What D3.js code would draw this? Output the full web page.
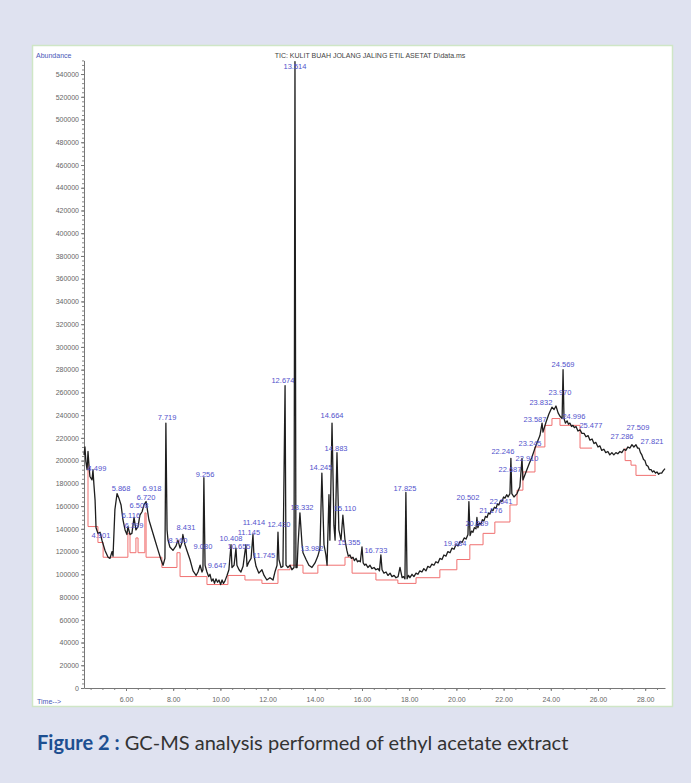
<!DOCTYPE html>
<html><head><meta charset="utf-8">
<script src="https://cdn.jsdelivr.net/npm/d3@7"></script>
<style>html,body{margin:0;padding:0;background:#dfe2f0;} svg{display:block}</style>
</head><body>
<svg id="c" width="691" height="783"></svg>
<script>
// ---- Chromatogram trace: [retention time (min), abundance] ----
const trace = [
 [4.22,205000],[4.26,212000],[4.30,199000],[4.35,192000],[4.39,208000],[4.43,196000],[4.47,186000],[4.56,183000],[4.60,192000],[4.64,179000],
 [4.69,165000],[4.73,141000],[4.81,136000],[4.90,137000],[4.98,130000],[5.11,121000],[5.24,115000],[5.32,114000],[5.41,120000],[5.45,116000],
 [5.53,157000],[5.62,171000],[5.70,167000],[5.79,161000],[5.87,148000],[5.96,139000],[6.04,135000],[6.08,142000],[6.17,135000],[6.25,136000],
 [6.34,150000],[6.42,139000],[6.51,142000],[6.59,152000],[6.68,155000],[6.76,161000],[6.85,164000],[6.89,159000],[6.97,148000],[7.10,139000],
 [7.23,130000],[7.36,121000],[7.48,113000],[7.57,108000],[7.65,114000],[7.69,233000],[7.74,139000],[7.78,130000],[7.86,124000],[7.99,121000],
 [8.12,125000],[8.20,130000],[8.29,123000],[8.37,128000],[8.41,135000],[8.50,126000],[8.58,121000],[8.71,113000],[8.84,103000],[8.97,99000],
 [9.05,102000],[9.14,108000],[9.22,102000],[9.26,104000],[9.30,185000],[9.35,108000],[9.43,102000],[9.50,98000],[9.56,100000],[9.63,94000],
 [9.69,96000],[9.75,92000],[9.81,96000],[9.88,93000],[9.94,95000],[10.01,91000],[10.07,95000],[10.13,92000],[10.19,94000],[10.28,99000],
 [10.36,104000],[10.45,126000],[10.49,106000],[10.58,108000],[10.66,123000],[10.70,108000],[10.79,104000],[10.87,102000],[10.96,107000],[11.08,126000],
 [11.13,107000],[11.21,111000],[11.30,114000],[11.38,135000],[11.42,117000],[11.51,107000],[11.63,101000],[11.76,104000],[11.85,99000],[11.97,95000],
 [12.10,97000],[12.23,95000],[12.31,102000],[12.40,108000],[12.44,137000],[12.48,113000],[12.57,106000],[12.65,107000],[12.74,266000],[12.78,108000],
 [12.86,106000],[12.95,108000],[13.03,104000],[13.12,106000],[13.16,551000],[13.20,106000],[13.25,106000],[13.29,126000],[13.37,154000],[13.46,126000],
 [13.50,119000],[13.63,113000],[13.75,108000],[13.88,106000],[14.01,110000],[14.13,116000],[14.22,123000],[14.30,189000],[14.39,126000],[14.47,117000],
 [14.52,108000],[14.60,170000],[14.64,130000],[14.73,233000],[14.81,143000],[14.86,130000],[14.94,207000],[15.02,139000],[15.11,130000],[15.19,152000],
 [15.28,130000],[15.36,121000],[15.42,116000],[15.49,117000],[15.55,114000],[15.62,115000],[15.68,112000],[15.75,114000],[15.81,111000],[15.87,112000],
 [15.93,111000],[16.00,124000],[16.05,110000],[16.11,108000],[16.17,109000],[16.25,106000],[16.34,108000],[16.42,105000],[16.51,106000],[16.59,104000],
 [16.68,105000],[16.74,103000],[16.80,117000],[16.85,104000],[16.93,101000],[17.02,102000],[17.10,99000],[17.19,101000],[17.27,98000],[17.36,99000],
 [17.44,97000],[17.53,98000],[17.61,106000],[17.70,97000],[17.76,98000],[17.82,96000],[17.86,172000],[17.91,96000],[17.97,99000],[18.03,97000],
 [18.12,100000],[18.20,98000],[18.29,101000],[18.37,100000],[18.45,103000],[18.54,102000],[18.62,105000],[18.71,103000],[18.79,107000],[18.88,106000],
 [18.96,109000],[19.05,108000],[19.13,111000],[19.22,110000],[19.30,114000],[19.39,113000],[19.47,117000],[19.56,116000],[19.64,120000],[19.73,119000],
 [19.81,123000],[19.90,122000],[19.98,126000],[20.07,125000],[20.16,129000],[20.24,128000],[20.33,132000],[20.41,131000],[20.49,135000],[20.53,164000],
 [20.58,134000],[20.64,138000],[20.70,137000],[20.76,141000],[20.83,140000],[20.87,150000],[20.91,141000],[20.97,145000],[21.04,144000],[21.10,148000],
 [21.17,147000],[21.23,151000],[21.30,150000],[21.36,154000],[21.42,153000],[21.49,157000],[21.55,156000],[21.61,159000],[21.68,158000],[21.74,162000],
 [21.80,161000],[21.87,165000],[21.93,164000],[22.00,168000],[22.06,167000],[22.13,170000],[22.19,168000],[22.27,171000],[22.31,202000],[22.35,171000],
 [22.44,168000],[22.57,171000],[22.69,177000],[22.78,202000],[22.82,183000],[22.95,190000],[23.08,197000],[23.20,203000],[23.33,211000],[23.46,218000],
 [23.54,222000],[23.63,233000],[23.67,225000],[23.80,234000],[23.92,241000],[24.05,247000],[24.14,245000],[24.22,248000],[24.31,242000],[24.39,239000],
 [24.48,237000],[24.52,280000],[24.56,237000],[24.62,233000],[24.69,235000],[24.75,232000],[24.81,233000],[24.88,230000],[24.94,231000],[25.00,229000],
 [25.07,230000],[25.15,226000],[25.24,227000],[25.32,224000],[25.41,224000],[25.49,221000],[25.58,222000],[25.66,218000],[25.75,219000],[25.83,215000],
 [25.91,216000],[26.00,212000],[26.08,213000],[26.16,209000],[26.25,210000],[26.33,207000],[26.42,208000],[26.50,205000],[26.59,207000],[26.67,205000],
 [26.76,207000],[26.84,206000],[26.93,208000],[27.01,207000],[27.10,210000],[27.18,209000],[27.27,212000],[27.35,211000],[27.44,214000],[27.52,212000],
 [27.61,214000],[27.68,211000],[27.74,211000],[27.80,207000],[27.86,205000],[27.93,201000],[27.99,200000],[28.05,196000],[28.12,195000],[28.18,192000],
 [28.25,192000],[28.31,190000],[28.37,191000],[28.44,189000],[28.50,190000],[28.57,188000],[28.63,189000],[28.70,189000],[28.76,191000],[28.84,193000]
];

// ---- Integration baselines (red) ----
const baseTime1 = [4.39,4.39,4.81,4.81,5.03,5.03,6.08,6.08,6.17,6.17,6.42,6.42,6.51,6.51,6.80,6.80,6.85,6.85,7.52,7.52,
 8.16,8.16,8.29,8.29,9.43,9.43,10.32,10.32,11.04,11.04,11.76,11.76,12.44,12.44,12.95,12.95,13.50,13.50,14.13,14.13,
 15.28,15.28,15.58,15.58,16.59,16.59,17.52,17.52,18.29,18.29,19.30,19.30,20.02,20.02,20.57,20.57,21.13,21.13,21.63,21.63,
 22.27,22.27,22.57,22.57,22.82,22.82,23.33,23.33,23.75,23.75,24.05,24.05,24.39,24.39,25.24,25.24,25.75];
const baseAbund1 = [203000,142000,142000,128000,128000,115000,115000,136000,136000,119000,119000,132000,132000,119000,119000,154000,154000,115000,115000,106000,
 106000,119000,119000,98000,98000,91000,91000,99000,99000,95000,95000,92000,92000,104000,104000,108000,108000,101000,101000,108000,
 108000,115000,115000,101000,101000,95000,95000,92000,92000,97000,97000,104000,104000,113000,113000,126000,126000,136000,136000,146000,
 146000,161000,161000,174000,174000,190000,190000,212000,212000,231000,231000,237000,237000,231000,231000,211000,211000];
const baseTime2 = [27.15,27.15,27.40,27.40,27.61,27.61,28.46];
const baseAbund2 = [211000,200000,200000,196000,196000,187000,187000];

// ---- Peak labels ----
const peakLabels = ["4.499","4.901","5.868","6.918","6.720","6.508","6.116","6.299","7.719","8.160","8.431","9.080","9.256","9.647",
 "10.408","10.655","11.145","11.414","11.745","12.430","12.674","13.514","13.332","13.982","14.245","14.664","14.883","15.110",
 "15.355","16.733","17.825","19.884","20.502","20.889","21.176","22.041","22.246","22.687","22.910","23.245","23.587","23.832",
 "23.970","24.569","24.996","25.477","27.286","27.509","27.821"];
const peakLabelTime = [4.77,4.94,5.79,7.10,6.85,6.55,6.21,6.34,7.74,8.20,8.54,9.26,9.35,9.86,
 10.45,10.79,11.21,11.42,11.85,12.48,12.65,13.16,13.46,13.88,14.26,14.73,14.90,15.28,
 15.45,16.59,17.82,19.94,20.49,20.87,21.46,21.89,21.97,22.27,22.99,23.12,23.33,23.58,
 24.39,24.52,24.98,25.70,27.02,27.69,28.29];
const peakLabelAbund = [193000,134000,176000,176000,168000,161000,152000,143000,238000,130000,141000,125000,188000,108000,
 132000,125000,137000,146000,117000,144000,271000,547000,159000,123000,194000,240000,211000,158000,
 128000,121000,176000,127000,168000,145000,156000,164000,208000,192000,202000,215000,236000,251000,
 260000,285000,239000,231000,221000,229000,217000];

// ---- Axis ticks ----
const xTickValues = [6,8,10,12,14,16,18,20,22,24,26,28];
const yTickValues = d3.range(0, 540001, 20000);

const svg = d3.select("#c");
svg.append("rect").attr("x",0).attr("y",0).attr("width",691).attr("height",783).attr("fill","#dfe2f0");
svg.append("rect").attr("x",32.5).attr("y",45.5).attr("width",640).attr("height",661)
  .attr("fill","#ffffff").attr("stroke","#cfe6c6").attr("stroke-width",1.5);

const x = d3.scaleLinear().domain([4.22, 28.84]).range([84, 665]);
const y = d3.scaleLinear().domain([0, 552000]).range([688, 60.4]);

const tickFont = "'Liberation Sans', Arial, sans-serif";

// minor ticks
svg.append("g").attr("transform","translate(84,0)")
  .call(d3.axisLeft(y).tickValues(d3.range(0,552001,4000)).tickSize(2).tickFormat(""))
  .call(g=>g.select(".domain").remove())
  .selectAll("line").attr("stroke","#888");
svg.append("g").attr("transform","translate(0,688)")
  .call(d3.axisBottom(x).tickValues(d3.range(4.5,28.8,0.5)).tickSize(2).tickFormat(""))
  .call(g=>g.select(".domain").remove())
  .selectAll("line").attr("stroke","#888");

const yAx = svg.append("g").attr("transform","translate(84,0)")
  .call(d3.axisLeft(y).tickValues(yTickValues).tickSize(3).tickSizeOuter(0).tickPadding(2).tickFormat(d3.format("d")));
yAx.selectAll("text").attr("font-size",7).attr("font-family",tickFont).attr("fill","#666");
yAx.selectAll("line,path").attr("stroke","#777");

const xAx = svg.append("g").attr("transform","translate(0,688)")
  .call(d3.axisBottom(x).tickValues(xTickValues).tickSize(3).tickSizeOuter(0).tickPadding(6).tickFormat(d3.format(".2f")));
xAx.selectAll("text").attr("font-size",7).attr("font-family",tickFont).attr("fill","#666");
xAx.selectAll("line,path").attr("stroke","#777");

svg.append("text").attr("x",36).attr("y",58).text("Abundance")
  .attr("font-size",7).attr("font-family",tickFont).attr("fill","#4a58b8");
svg.append("text").attr("x",37).attr("y",704).text("Time-->")
  .attr("font-size",7).attr("font-family",tickFont).attr("fill","#4a58b8");
svg.append("text").attr("x",370).attr("y",58).attr("text-anchor","middle")
  .text("TIC: KULIT BUAH JOLANG JALING ETIL ASETAT D\\data.ms")
  .attr("font-size",7).attr("font-family",tickFont).attr("fill","#444");

// baselines
const line = d3.line().x(d=>x(d[0])).y(d=>y(d[1]));
const b1 = baseTime1.map((t,i)=>[t, baseAbund1[i]]);
const b2 = baseTime2.map((t,i)=>[t, baseAbund2[i]]);
[b1,b2].forEach(b=>svg.append("path").attr("d",line(b)).attr("fill","none")
  .attr("stroke","#f07070").attr("stroke-width",1));

// trace
svg.append("path").attr("d",line(trace)).attr("fill","none")
  .attr("stroke","#1e1e1e").attr("stroke-width",1.3).attr("stroke-linejoin","round");

// peak labels
svg.append("g").selectAll("text").data(peakLabels).join("text")
  .attr("x",(d,i)=>x(peakLabelTime[i])).attr("y",(d,i)=>y(peakLabelAbund[i]))
  .attr("dy","0.35em").attr("text-anchor","middle")
  .attr("font-size",7.5).attr("font-family",tickFont).attr("fill","#5252cc")
  .text(d=>d);

// caption
const cap = svg.append("text").attr("x",37).attr("y",750)
  .attr("font-family","Lato, 'Open Sans', sans-serif").attr("font-size",19);
cap.append("tspan").attr("font-weight","bold").attr("fill","#1d4f91").text("Figure 2 :");
cap.append("tspan").attr("fill","#333").text(" GC-MS analysis performed of ethyl acetate extract");
const w = cap.node().getComputedTextLength();
if (w > 0) cap.attr("font-size", 19 * 532 / w);
</script>
</body></html>
